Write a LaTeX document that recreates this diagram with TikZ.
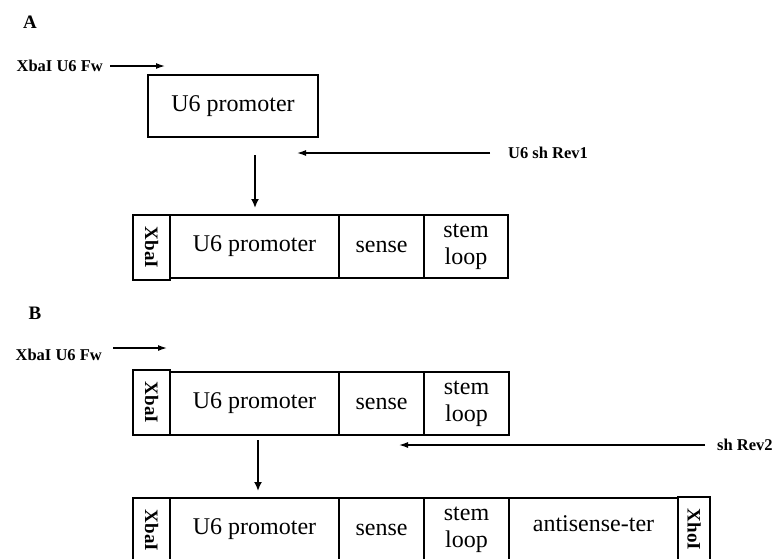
\documentclass[tikz,border=0pt]{standalone}
\usepackage{fontspec}
\setmainfont{Liberation Serif}
\usetikzlibrary{arrows.meta,positioning}
\tikzset{part/.style={draw,line width=1.2pt,inner sep=0pt,outer sep=0pt,minimum height=63pt,align=center,font=\fontsize{24}{27}\selectfont}}
\tikzset{site/.style={part,minimum width=37pt,minimum height=65pt,font=\bfseries\fontsize{19}{19}\selectfont}}
\tikzset{primer/.style={inner sep=2pt,font=\bfseries\fontsize{16.5}{17}\selectfont}}
\tikzset{panel/.style={inner sep=0pt,font=\bfseries\fontsize{19}{19}\selectfont}}
\tikzset{arrow/.style={draw,line width=1.3pt,-{Latex[length=9pt,width=6pt]}}}
\tikzset{pcr/.style={draw,line width=2.5pt,-{Latex[length=9pt,width=8pt]}}}

\begin{document}
\begin{tikzpicture}[x=1pt,y=-1pt,node distance=0pt]
    \useasboundingbox (0,0) rectangle (775,558);

    % panel A
    \node[panel] (la) at (30,22) {A};
    \node[primer,anchor=east] (fw1) at (105,66) {XbaI U6 Fw};
    \coordinate (f1) at (165,66);
    \node[part,minimum width=170pt,minimum height=62pt,anchor=north west] (pr0) at (148,75) {U6 promoter};
    \node[primer,anchor=west] (rev1) at (506,153) {U6 sh Rev1};
    \coordinate (r1) at (297,153);
    \coordinate (d1a) at (255,155);
    \coordinate (d1b) at (255,208);

    \node[site,anchor=north west] (xa1) at (133,215) {\rotatebox{-90}{XbaI}};
    \node[part,minimum width=169pt,anchor=north west] (pa1) at (xa1.north east) {U6 promoter};
    \node[part,minimum width=85pt,right=of pa1] (sa1) {sense};
    \node[part,minimum width=84pt,right=of sa1] (sl1) {stem\\loop};

        \path[arrow,shorten <=5pt] (fw1.east) -- (f1);
        \path[arrow,shorten <=16pt] (rev1.west) -- (r1);
        \path[pcr] (d1a) -- (d1b);

    % panel B
    \node[panel] (lb) at (35,313) {B};
    \node[primer,anchor=east] (fw2) at (104,355) {XbaI U6 Fw};
    \coordinate (f2) at (167,348);

    \node[site,anchor=north west] (xb1) at (133,370) {\rotatebox{-90}{XbaI}};
    \node[part,minimum width=169pt,anchor=north west] (pb1) at ([yshift=-2pt]xb1.north east) {U6 promoter};
    \node[part,minimum width=85pt,right=of pb1] (sb1) {sense};
    \node[part,minimum width=85pt,right=of sb1] (sl2) {stem\\loop};

    \node[primer,anchor=west] (rev2) at (715,445) {sh Rev2};
    \coordinate (r2) at (399,445);
    \coordinate (d2a) at (258,440);
    \coordinate (d2b) at (258,491);

    \node[site,anchor=north west] (xb2) at (133,498) {\rotatebox{-90}{XbaI}};
    \node[part,minimum width=169pt,anchor=north west] (pb2) at (xb2.north east) {U6 promoter};
    \node[part,minimum width=85pt,right=of pb2] (sb2) {sense};
    \node[part,minimum width=85pt,right=of sb2] (sl3) {stem\\loop};
    \node[part,minimum width=169pt,right=of sl3] (as2) {\raisebox{6pt}[\height][\depth]{antisense-ter}};
    \node[site,minimum width=32pt,anchor=north west] (xh2) at ([yshift=1pt]as2.north east) {\rotatebox{-90}{XhoI}};

        \path[arrow,shorten <=9pt] (fw2.east |- f2) -- (f2);
        \path[arrow,shorten <=10pt] (rev2.west) -- (r2);
        \path[pcr] (d2a) -- (d2b);
\end{tikzpicture}
\end{document}
